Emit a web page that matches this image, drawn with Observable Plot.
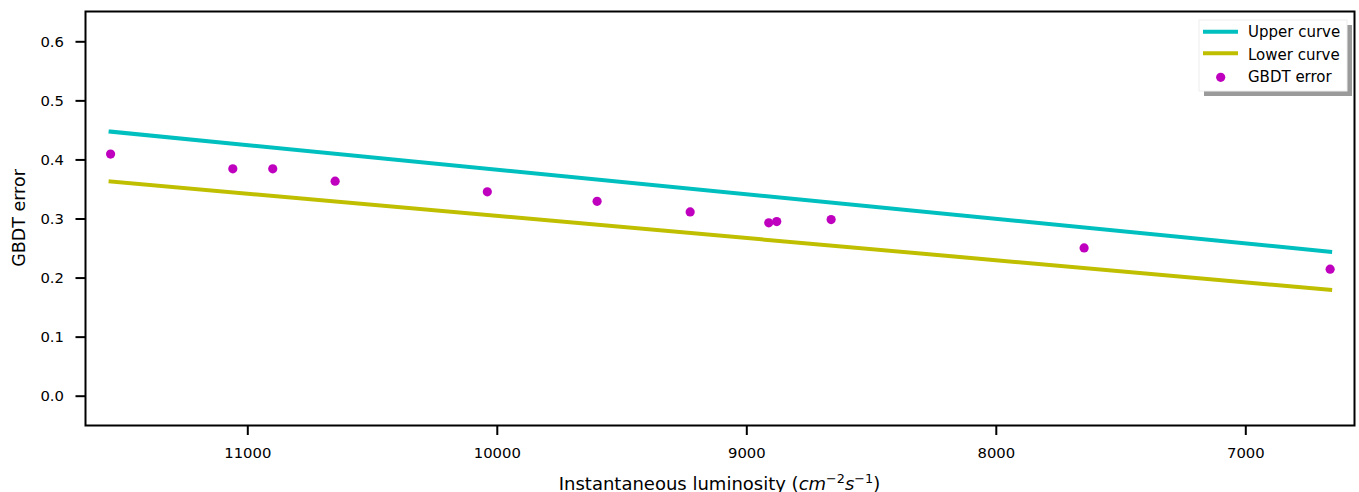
<!DOCTYPE html>
<html>
<head>
<meta charset="utf-8">
<script src="https://cdn.jsdelivr.net/npm/d3@7"></script>
<script src="https://cdn.jsdelivr.net/npm/@observablehq/plot@0.6"></script>
<style>
  html, body { margin: 0; padding: 0; background: white; }
  #chart { width: 1359px; height: 492px; }
</style>
</head>
<body>
<div id="chart"></div>
<script>
// Data
const luminosity = [11550, 11060, 10900, 10650, 10040, 9600, 9227, 8912, 8880, 8662, 7648, 6662];
const gbdtError  = [0.410, 0.385, 0.385, 0.364, 0.346, 0.330, 0.312, 0.2935, 0.2957, 0.299, 0.251, 0.215];
const curveX     = [11550, 6662];
const upperCurve = [0.448, 0.2445];
const lowerCurve = [0.3635, 0.180];
const xTicks = [11000, 10000, 9000, 8000, 7000];
const yTicks = [0.0, 0.1, 0.2, 0.3, 0.4, 0.5, 0.6];
const legendLabels = ["Upper curve", "Lower curve", "GBDT error"];
const colors = {upper: "#00BFBF", lower: "#BFBF00", points: "#BF00BF"};

const points = luminosity.map((x, i) => ({x, y: gbdtError[i]}));
const upper = curveX.map((x, i) => ({x, y: upperCurve[i]}));
const lower = curveX.map((x, i) => ({x, y: lowerCurve[i]}));

const plot = Plot.plot({
  width: 1359,
  height: 492,
  marginLeft: 85,
  marginRight: 5,
  marginTop: 11,
  marginBottom: 67,
  style: {fontFamily: "DejaVu Sans", fontSize: "14.6px", background: "white", color: "black"},
  x: {domain: [11650.5, 6564.3], label: null},
  y: {domain: [-0.0496, 0.6513], label: null},
  marks: [
    Plot.line(upper, {x: "x", y: "y", stroke: colors.upper, strokeWidth: 4, strokeLinecap: "square"}),
    Plot.line(lower, {x: "x", y: "y", stroke: colors.lower, strokeWidth: 4, strokeLinecap: "square"}),
    Plot.dot(points, {x: "x", y: "y", r: 4.6, fill: colors.points, stroke: "none"}),
    Plot.axisX({ticks: xTicks, tickFormat: d3.format("d"), tickSize: 10, tickPadding: 12, strokeWidth: 2, fontSize: 14.8, label: null}),
    Plot.axisY({ticks: yTicks, tickFormat: d3.format(".1f"), tickSize: 9.5, tickPadding: 12, strokeWidth: 2, fontSize: 14.8, label: null}),
    Plot.frame({stroke: "black", strokeWidth: 2})
  ]
});

document.getElementById("chart").appendChild(plot);

const svg = d3.select(plot);

// Axis labels
const xl = svg.append("text")
  .attr("x", 719.5).attr("y", 489.5)
  .attr("text-anchor", "middle")
  .attr("font-family", "DejaVu Sans")
  .attr("font-size", "18px")
  .attr("fill", "black");
xl.append("tspan").text("Instantaneous luminosity (");
xl.append("tspan").attr("font-style", "italic").text("cm");
xl.append("tspan").attr("font-size", "12.8px").attr("dy", "-7").text("\u22122");
xl.append("tspan").attr("font-style", "italic").attr("dy", "7").text("s");
xl.append("tspan").attr("font-size", "12.8px").attr("dy", "-7").text("\u22121");
xl.append("tspan").attr("dy", "7").text(")");

svg.append("text")
  .attr("transform", "translate(25,218) rotate(-90)")
  .attr("text-anchor", "middle")
  .attr("font-family", "DejaVu Sans")
  .attr("font-size", "17.5px")
  .attr("fill", "black")
  .text("GBDT error");

// Legend
const lg = svg.append("g");
lg.append("rect").attr("x", 1204).attr("y", 25).attr("width", 148).attr("height", 71).attr("fill", "#9a9a9a");
lg.append("rect").attr("x", 1199).attr("y", 20).attr("width", 148).attr("height", 71).attr("fill", "white").attr("stroke", "#eeeeee").attr("stroke-width", 1);
const rowsY = [31.7, 53.3, 77.3];
lg.append("line").attr("x1", 1205).attr("x2", 1236).attr("y1", rowsY[0]).attr("y2", rowsY[0])
  .attr("stroke", colors.upper).attr("stroke-width", 4).attr("stroke-linecap", "square");
lg.append("line").attr("x1", 1205).attr("x2", 1236).attr("y1", rowsY[1]).attr("y2", rowsY[1])
  .attr("stroke", colors.lower).attr("stroke-width", 4).attr("stroke-linecap", "square");
lg.append("circle").attr("cx", 1220.7).attr("cy", rowsY[2]).attr("r", 4.6).attr("fill", colors.points);
const baselines = [37.3, 60, 81.7];
legendLabels.forEach((t, i) => {
  lg.append("text").attr("x", 1248).attr("y", baselines[i])
    .attr("text-anchor", "start")
    .attr("font-family", "DejaVu Sans").attr("font-size", "15px").attr("fill", "black").text(t);
});
</script>
</body>
</html>
